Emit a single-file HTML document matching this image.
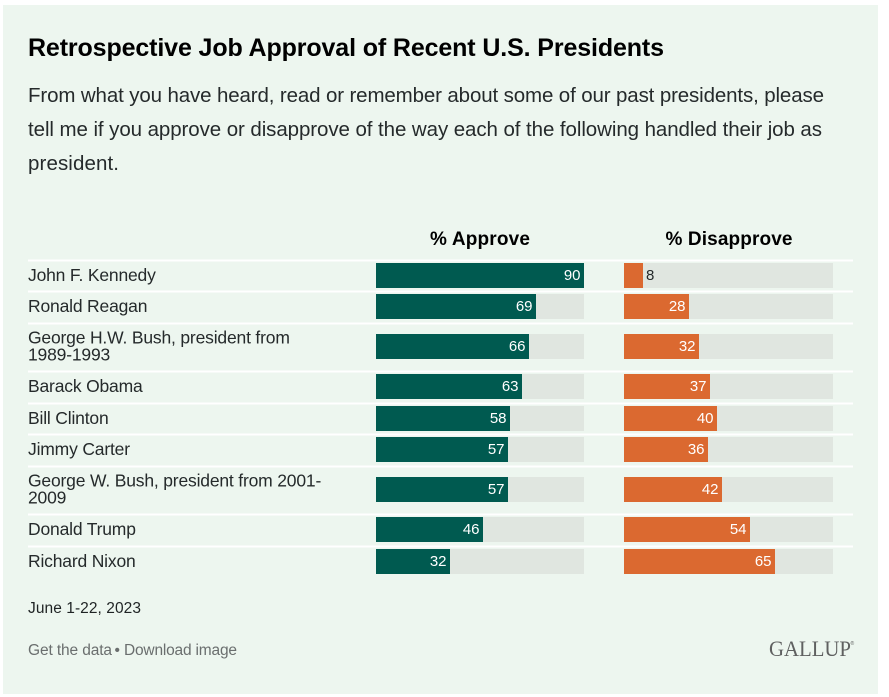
<!DOCTYPE html>
<html lang="en">
<head>
<meta charset="utf-8">
<title>Retrospective Job Approval of Recent U.S. Presidents</title>
<style>
html,body{margin:0;padding:0;background:#fff;width:889px;height:697px;overflow:hidden}
svg{display:block;font-family:"Liberation Sans",sans-serif}
</style>
</head>
<body>
<svg id="chart" width="889" height="697" viewBox="0 0 889 697" xmlns="http://www.w3.org/2000/svg">
  <rect x="3" y="5" width="875" height="689" fill="#edf6ef"/>
  <text x="28" y="56" font-size="25" font-weight="700" fill="#000" textLength="636" lengthAdjust="spacing">Retrospective Job Approval of Recent U.S. Presidents</text>
  <text x="28" y="102" font-size="20.5" fill="#252a2b" textLength="796" lengthAdjust="spacing">From what you have heard, read or remember about some of our past presidents, please</text>
  <text x="28" y="136" font-size="20.5" fill="#252a2b" textLength="794" lengthAdjust="spacing">tell me if you approve or disapprove of the way each of the following handled their job as</text>
  <text x="28" y="170" font-size="20.5" fill="#252a2b" textLength="91" lengthAdjust="spacing">president.</text>
  <text x="480" y="245" font-size="19" font-weight="700" fill="#000" text-anchor="middle" textLength="100" lengthAdjust="spacing">% Approve</text>
  <text x="729" y="245" font-size="19" font-weight="700" fill="#000" text-anchor="middle" textLength="127" lengthAdjust="spacing">% Disapprove</text>
  <g id="rows"></g>
  <text x="28" y="613" font-size="15.5" fill="#1f2324" textLength="113" lengthAdjust="spacing">June 1-22, 2023</text>
  <text x="28" y="655" font-size="15.5" fill="#6a6e6e" textLength="84" lengthAdjust="spacing">Get the data</text>
  <text x="114.5" y="655" font-size="15.5" fill="#6a6e6e">•</text>
  <text x="124" y="655" font-size="15.5" fill="#6a6e6e" textLength="113" lengthAdjust="spacing">Download image</text>
  <text x="769" y="656" font-family="'Liberation Serif',serif" font-size="22.5" fill="#5f6060" textLength="82" lengthAdjust="spacingAndGlyphs">GALLUP</text>
  <text x="850.5" y="645" font-size="5" fill="#5f6060">®</text>
</svg>
<script>
const presidents = [
  ["John F. Kennedy"],
  ["Ronald Reagan"],
  ["George H.W. Bush, president from", "1989-1993"],
  ["Barack Obama"],
  ["Bill Clinton"],
  ["Jimmy Carter"],
  ["George W. Bush, president from 2001-", "2009"],
  ["Donald Trump"],
  ["Richard Nixon"]
];
const approveValues = [90, 69, 66, 63, 58, 57, 57, 46, 32];
const disapproveValues = [8, 28, 32, 37, 40, 36, 42, 54, 65];
const domainMax = 90;

const SVG_NS = "http://www.w3.org/2000/svg";
const rowsGroup = document.getElementById("rows");
const approveAxis = { start: 376.3, length: 208, trackWidth: 208 };
const disapproveAxis = { start: 624.3, length: 209, trackWidth: 209 };
const barHeight = 25;
const singleRow = 31.7;
const doubleRow = 48;

function xEnd(value, axis) {
  return Math.round(axis.start + value / domainMax * axis.length);
}
function rowHeight(lines) {
  return lines.length > 1 ? doubleRow : singleRow;
}
function makeNode(tag, attrs) {
  const node = document.createElementNS(SVG_NS, tag);
  Object.keys(attrs).forEach(function (key) {
    node.setAttribute(key, attrs[key]);
  });
  rowsGroup.appendChild(node);
  return node;
}
function drawBar(axis, y, value, color, seriesName) {
  const x0 = Math.floor(axis.start);
  const track = makeNode("rect", { x: x0, y: y, width: axis.trackWidth, height: barHeight, fill: "#e0e6e0" });
  
  

  const w = xEnd(value, axis) - x0;
  const bar = makeNode("rect", { x: x0, y: y, width: w, height: barHeight, fill: color });
  
  

  const outside = w < 30;
  const label = makeNode("text", {
    x: outside ? x0 + w + 3 : x0 + w - 3.5,
    y: y + 17,
    "font-size": 15,
    fill: outside ? "#252a2b" : "#ffffff",
    "text-anchor": outside ? "start" : "end"
  });
  label.textContent = value;
  
  
}

let rowTop = 259.5;
presidents.forEach(function (lines, i) {
  const h = rowHeight(lines);

  const separator = makeNode("rect", { x: 28, y: Math.round(rowTop) - 0.5, width: 825, height: 2, fill: "#ffffff" });
  
  

  const barY = Math.floor(rowTop + (h - barHeight) / 2 + 0.3);
  const centerY = barY + barHeight / 2;

  lines.forEach(function (line, j) {
    const lineY = lines.length > 1 ? centerY - 3 + j * 17 : centerY + 5.5;
    const nameText = makeNode("text", { x: 28, y: lineY, "font-size": 17.5, "letter-spacing": -0.18, fill: "#252a2b" });
    nameText.textContent = line;
    
    
  });

  drawBar(approveAxis, barY, approveValues[i], "#005a50", "approve");
  drawBar(disapproveAxis, barY, disapproveValues[i], "#db6930", "disapprove");

  rowTop += h;
});
</script>
</body>
</html>
